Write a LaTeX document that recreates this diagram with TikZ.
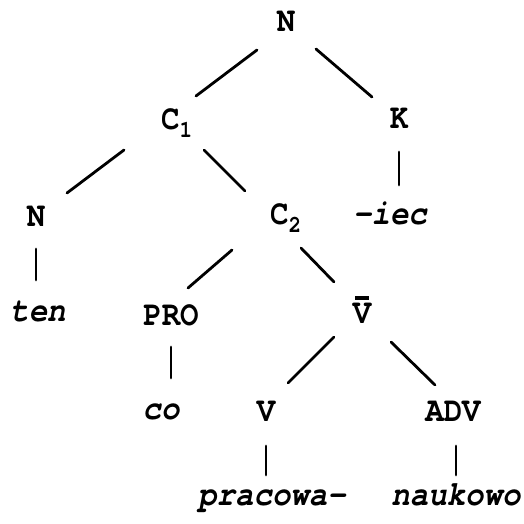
\documentclass[tikz,border=0pt]{standalone}
\usepackage{fontspec}
\newfontfamily\tw[FakeStretch=0.88]{TeX Gyre Cursor}
\usetikzlibrary{calc}
\newcommand{\subsc}[1]{\raisebox{-8pt}{\fontsize{24}{24}\selectfont #1}}
\newcommand{\vbar}{\ooalign{V\cr\hidewidth\rule[24pt]{14pt}{3.5pt}\hidewidth\cr}}
\tikzset{
  lab/.style={inner sep=0pt, anchor=base, font=\tw\fontsize{35}{35}\selectfont\bfseries},
  word/.style={lab, font=\tw\fontsize{35}{35}\selectfont\bfseries\itshape},
  edge/.style={line width=2.8pt, line cap=round}
}
\begin{document}
\begin{tikzpicture}[x=1pt,y=1pt]
\useasboundingbox[fill=white] (0,0) rectangle (524,524);
% nodes
\node[lab] (Nt) at (286,492) {N};
\node[lab, anchor=base west] (C1) at (161,394) {C\subsc{1}};
\node[lab] (K) at (399,395) {K};
\node[lab] (Nl) at (36,297) {N};
\node[lab, anchor=base west] (C2) at (270,299) {C\subsc{2}};
\node[word] (iec) at (390,299) {-iec};
\node[word] (ten) at (38,202) {ten};
\node[lab] (PRO) at (171,198) {PRO};
\node[lab] (Vb) at (362,200) {\vbar};
\node[word] (co) at (161,104) {co};
\node[lab] (V) at (266,102) {V};
\node[lab] (ADV) at (453,102) {ADV};
\node[word] (prac) at (272,18) {pracowa-};
\node[word] (nauk) at (456,18) {naukowo};
% edges
\draw[edge] ($(Nt.base)+(-29,-18)$) -- ($(C1.base west)+(35,34)$);
\draw[edge] ($(Nt.base)+(30,-17)$) -- ($(K.base)+(-27,32)$);
\draw[edge] ($(C1.base west)+(-37,-20)$) -- ($(Nl.base)+(31,34)$);
\draw[edge] ($(C1.base west)+(43,-20)$) -- ($(C2.base west)+(-25,34)$);
\draw[edge] ($(K.base)+(0,-23)$) -- ($(iec.base)+(9,40)$);
\draw[edge] ($(Nl.base)+(0,-22)$) -- ($(ten.base)+(-2,42)$);
\draw[edge] ($(C2.base west)+(-38,-25)$) -- ($(PRO.base)+(17,38)$);
\draw[edge] ($(C2.base west)+(31,-23)$) -- ($(Vb.base)+(-28,42)$);
\draw[edge] ($(PRO.base)+(0,-21)$) -- ($(co.base)+(10,42)$);
\draw[edge] ($(Vb.base)+(-28,-13)$) -- ($(V.base)+(22,39)$);
\draw[edge] ($(Vb.base)+(29,-18)$) -- ($(ADV.base)+(-18,37)$);
\draw[edge] ($(V.base)+(0,-24)$) -- ($(prac.base)+(-6,31)$);
\draw[edge] ($(ADV.base)+(3,-24)$) -- ($(nauk.base)+(0,31)$);
\end{tikzpicture}
\end{document}
